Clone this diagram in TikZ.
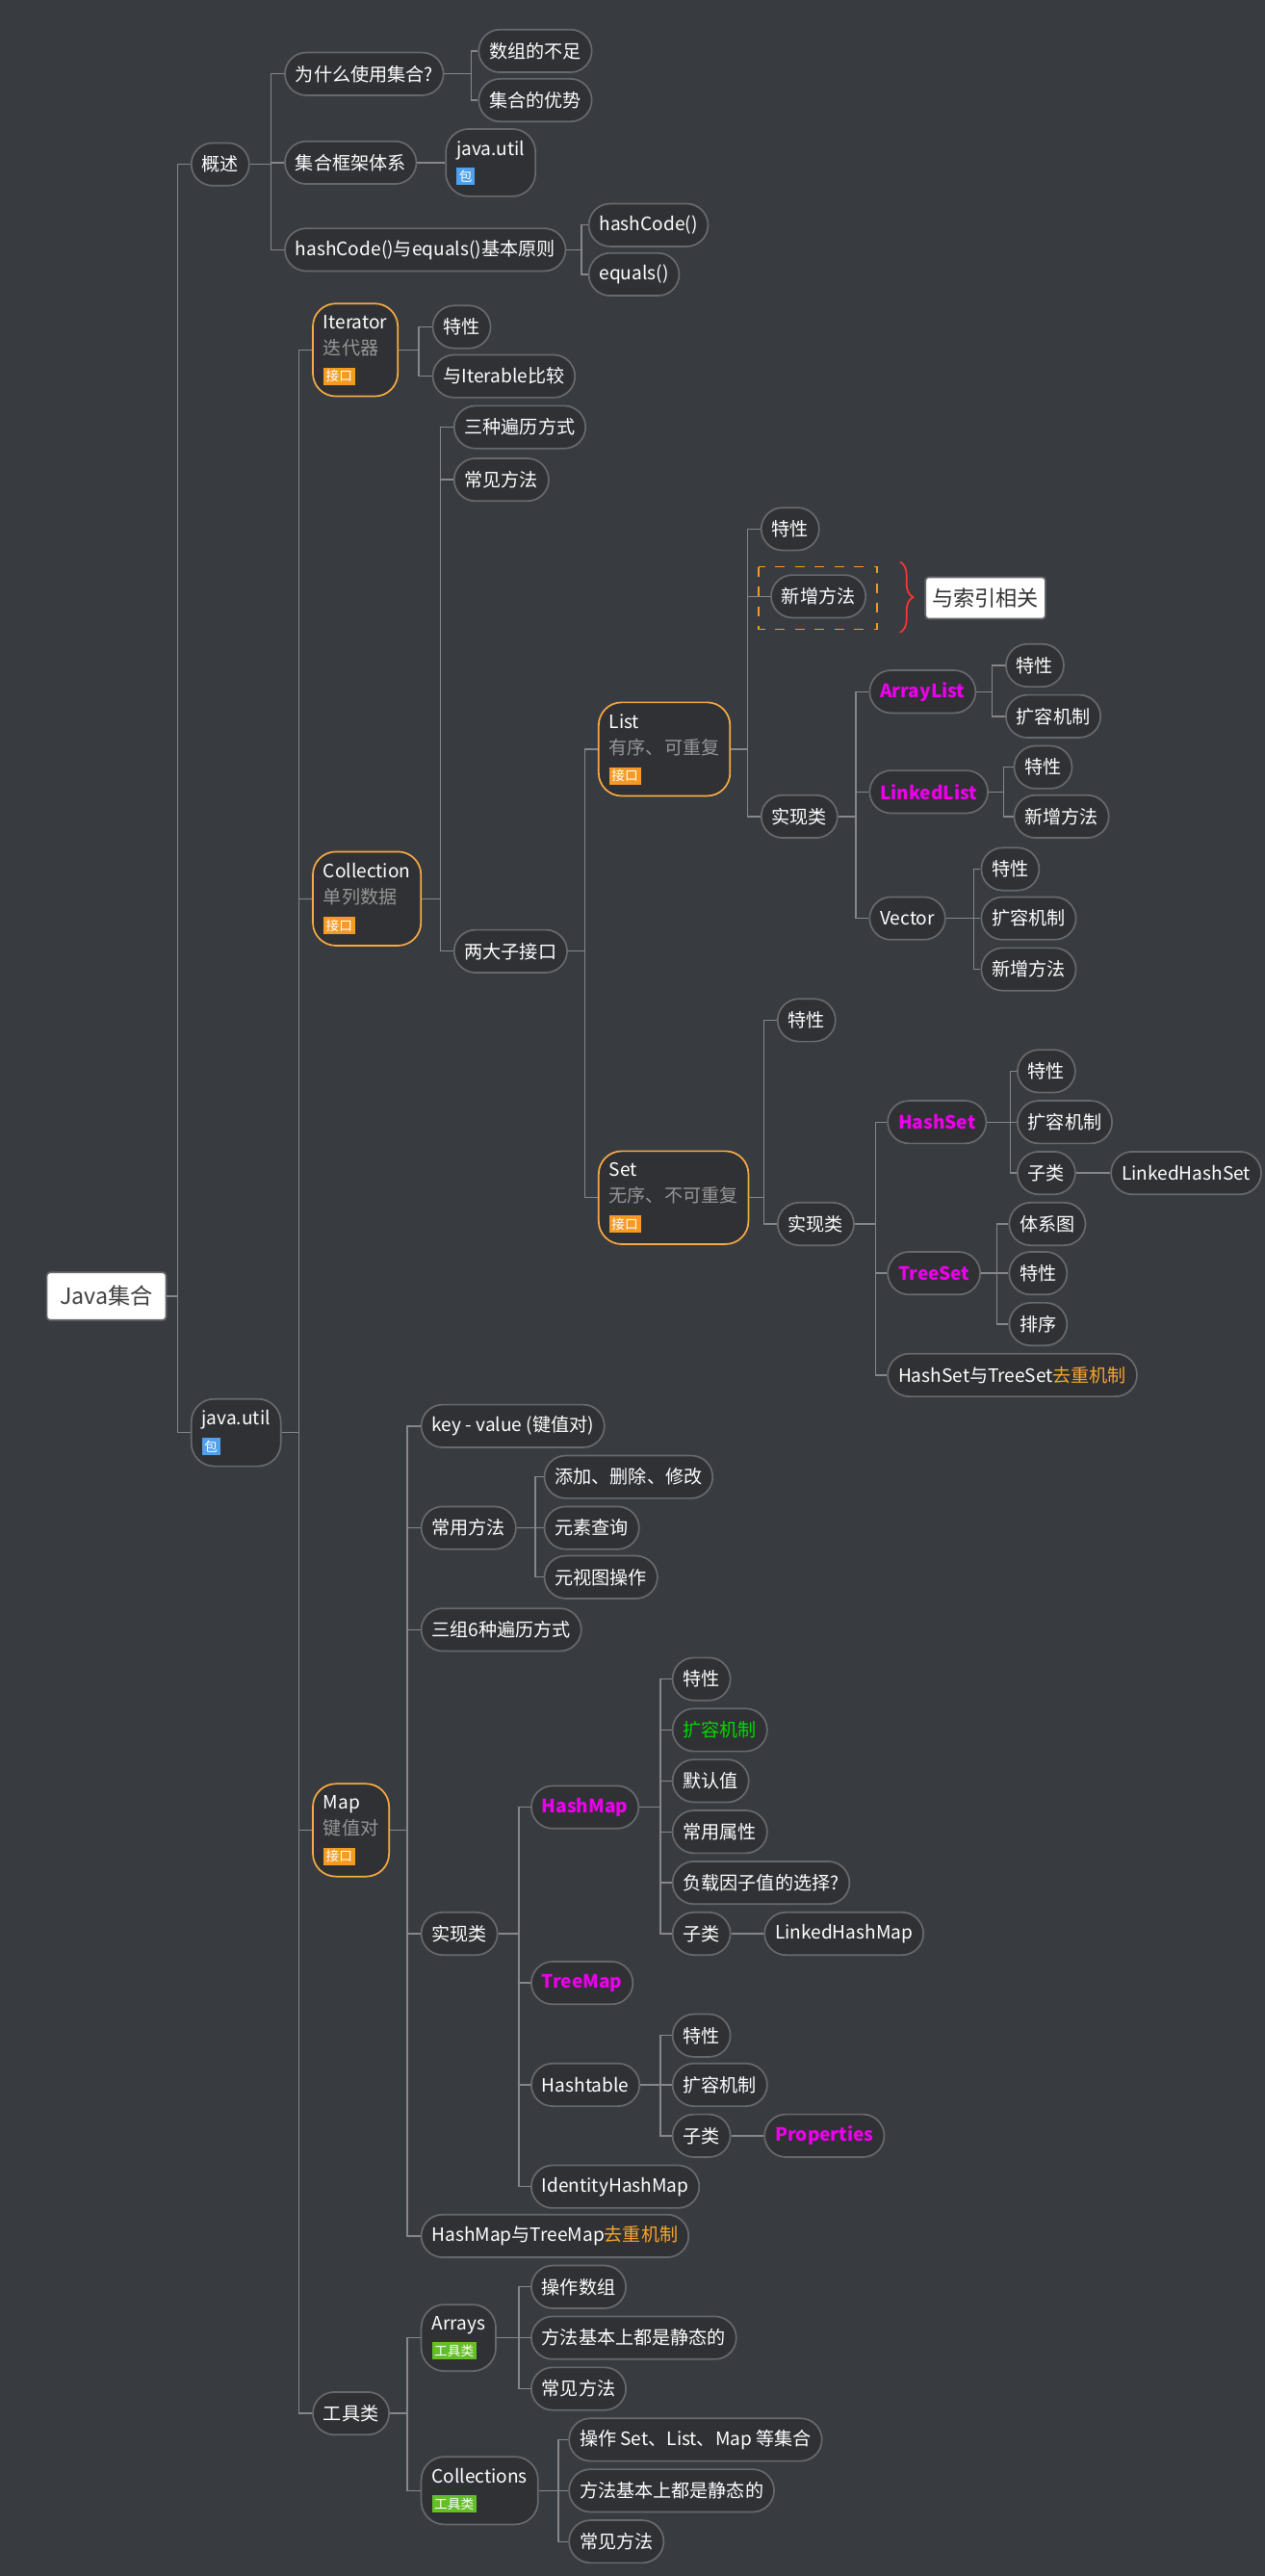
\documentclass[tikz,border=0pt]{standalone}
\usepackage{fontspec}
\setmainfont{Noto Sans CJK SC}
\usetikzlibrary{decorations.pathreplacing}
\definecolor{subgray}{RGB}{150,150,150}
\definecolor{tagorange}{RGB}{245,155,35}
\definecolor{tagblue}{RGB}{80,160,235}
\definecolor{taggreen}{RGB}{100,190,40}
\newcommand{\mmtag}[2]{{\setlength\fboxsep{0.8pt}\colorbox{#1}{\fontsize{4}{4}\selectfont\color{white}#2}}}
\begin{document}
\begin{tikzpicture}[x=0.5pt,y=-0.5pt]
            \definecolor{bg_color}{RGB}{56,59,64}
            \definecolor{node_color}{RGB}{48,49,52}
            \definecolor{edge_color}{RGB}{135,135,138}
            \definecolor{hot}{RGB}{235,0,235}
            \definecolor{dedup}{RGB}{245,165,45}
            \tikzstyle{leaf} = [draw=edge_color!60!bg_color, line width=0.5pt, fill=node_color, text=white, rounded corners=6.5pt, minimum height=13pt, inner xsep=3.2pt, anchor=west, font=\fontsize{5.6}{7}\selectfont]
            \tikzstyle{box} = [leaf, draw=tagorange!85, rounded corners=7pt, align=left, inner ysep=3.5pt, font=\fontsize{5.6}{8}\selectfont]
            \tikzstyle{pkg} = [leaf, rounded corners=7pt, align=left, inner ysep=3.5pt, font=\fontsize{5.6}{8}\selectfont]
            \tikzstyle{conn} = [draw=edge_color, line width=0.4pt]
            \fill[bg_color] (0,0) rectangle (770,1568);
            \useasboundingbox (0,0) rectangle (770,1568);
            % root and overview
            \node[leaf, fill=white, text=black!75, rounded corners=1pt, minimum height=14.5pt, inner xsep=4pt, font=\fontsize{6.8}{8}\selectfont] (root) at (28,789) {Java集合};
            \node[leaf] (ovw) at (116,100) {概述};
            \node[pkg] (util) at (116,872) {java.util\\\mmtag{tagblue}{包}};
            \node[leaf] (why) at (173,45) {为什么使用集合?};
            \node[leaf] (frame) at (173,99) {集合框架体系};
            \node[leaf] (hce) at (173,152) {hashCode()与equals()基本原则};
            \node[leaf] (lack) at (291,31) {数组的不足};
            \node[leaf] (adv) at (291,61) {集合的优势};
            \node[pkg] (pkg) at (271,99) {java.util\\\mmtag{tagblue}{包}};
            \node[leaf] (hc) at (358,137) {hashCode()};
            \node[leaf] (eq) at (358,167) {equals()};
            % iterator and collection
            \node[box] (iter) at (190,213) {Iterator\\{\color{subgray}迭代器}\\\mmtag{tagorange}{接口}};
            \node[box] (coll) at (190,547) {Collection\\{\color{subgray}单列数据}\\\mmtag{tagorange}{接口}};
            \node[box] (map) at (190,1114) {Map\\{\color{subgray}键值对}\\\mmtag{tagorange}{接口}};
            \node[leaf] (tools) at (190,1469) {工具类};
            \node[leaf] (itfeat) at (263,199) {特性};
            \node[leaf] (itcmp) at (263,229) {与Iterable比较};
            \node[leaf] (trav) at (276,260) {三种遍历方式};
            \node[leaf] (cmeth) at (276,292) {常见方法};
            \node[leaf] (sub) at (276,579) {两大子接口};
            \node[box] (list) at (364,456) {List\\{\color{subgray}有序、可重复}\\\mmtag{tagorange}{接口}};
            \node[box] (set) at (364,729) {Set\\{\color{subgray}无序、不可重复}\\\mmtag{tagorange}{接口}};
            % list
            \node[leaf] (lfeat) at (463,322) {特性};
            \node[leaf] (lnew) at (469,363) {新增方法};
            \draw[tagorange, dashed, line width=0.5pt] (462,345) rectangle (534,383);
            \draw[red!80, line width=0.5pt, decorate, decoration={brace, amplitude=4pt}] (548,342) -- (548,385);
            \node[leaf, fill=white, text=black!80, rounded corners=1pt, minimum height=11pt, inner xsep=2pt, font=\fontsize{6.5}{7}\selectfont] (idx) at (563,364) {与索引相关};
            \node[leaf] (limpl) at (463,497) {实现类};
            \node[leaf, text=hot, font=\fontsize{5.6}{7}\selectfont\bfseries] (al) at (529,421) {ArrayList};
            \node[leaf, text=hot, font=\fontsize{5.6}{7}\selectfont\bfseries] (ll) at (529,482) {LinkedList};
            \node[leaf] (vec) at (529,559) {Vector};
            \node[leaf] (alf) at (612,405) {特性};
            \node[leaf] (alg) at (612,436) {扩容机制};
            \node[leaf] (llf) at (617,467) {特性};
            \node[leaf] (lln) at (617,497) {新增方法};
            \node[leaf] (vf) at (597,529) {特性};
            \node[leaf] (vg) at (597,559) {扩容机制};
            \node[leaf] (vn) at (597,590) {新增方法};
            % set
            \node[leaf] (sfeat) at (473,621) {特性};
            \node[leaf] (simpl) at (473,745) {实现类};
            \node[leaf, text=hot, font=\fontsize{5.6}{7}\selectfont\bfseries] (hs) at (540,683) {HashSet};
            \node[leaf, text=hot, font=\fontsize{5.6}{7}\selectfont\bfseries] (ts) at (540,775) {TreeSet};
            \node[leaf] (sdedup) at (540,837) {HashSet与TreeSet{\color{dedup}去重机制}};
            \node[leaf] (hsf) at (619,652) {特性};
            \node[leaf] (hsg) at (619,683) {扩容机制};
            \node[leaf] (hssub) at (619,714) {子类};
            \node[leaf] (lhs) at (676,714) {LinkedHashSet};
            \node[leaf] (tsd) at (614,745) {体系图};
            \node[leaf] (tsf) at (614,775) {特性};
            \node[leaf] (tss) at (614,806) {排序};
            % map
            \node[leaf] (kv) at (256,868) {key - value (键值对)};
            \node[leaf] (mmeth) at (256,930) {常用方法};
            \node[leaf] (mtrav) at (256,992) {三组6种遍历方式};
            \node[leaf] (mimpl) at (256,1177) {实现类};
            \node[leaf] (mdedup) at (256,1361) {HashMap与TreeMap{\color{dedup}去重机制}};
            \node[leaf] (madd) at (331,899) {添加、删除、修改};
            \node[leaf] (mq) at (331,930) {元素查询};
            \node[leaf] (mview) at (331,960) {元视图操作};
            \node[leaf, text=hot, font=\fontsize{5.6}{7}\selectfont\bfseries] (hm) at (323,1100) {HashMap};
            \node[leaf, text=hot, font=\fontsize{5.6}{7}\selectfont\bfseries] (tm) at (323,1207) {TreeMap};
            \node[leaf] (ht) at (323,1269) {Hashtable};
            \node[leaf] (ihm) at (323,1331) {IdentityHashMap};
            \node[leaf] (hmf) at (409,1022) {特性};
            \node[leaf, text=green!85!black] (hmg) at (409,1053) {扩容机制};
            \node[leaf] (hmd) at (409,1084) {默认值};
            \node[leaf] (hma) at (409,1115) {常用属性};
            \node[leaf] (hml) at (409,1146) {负载因子值的选择?};
            \node[leaf] (hmsub) at (409,1177) {子类};
            \node[leaf] (lhm) at (465,1177) {LinkedHashMap};
            \node[leaf] (htf) at (409,1239) {特性};
            \node[leaf] (htg) at (409,1269) {扩容机制};
            \node[leaf] (htsub) at (409,1300) {子类};
            \node[leaf, text=hot, font=\fontsize{5.6}{7}\selectfont\bfseries] (prop) at (465,1300) {Properties};
            % tools
            \node[pkg] (arr) at (256,1423) {Arrays\\\mmtag{taggreen}{工具类}};
            \node[pkg] (colls) at (256,1516) {Collections\\\mmtag{taggreen}{工具类}};
            \node[leaf] (arrop) at (323,1392) {操作数组};
            \node[leaf] (arrst) at (323,1423) {方法基本上都是静态的};
            \node[leaf] (arrm) at (323,1454) {常见方法};
            \node[leaf] (cop) at (346,1485) {操作 Set、List、Map 等集合};
            \node[leaf] (cst) at (346,1516) {方法基本上都是静态的};
            \node[leaf] (cm) at (346,1547) {常见方法};
            % connectors
            \foreach \p/\x/\cs in {root/108/{ovw,util}, ovw/165/{why,frame,hce}, why/287/{lack,adv},
                hce/354/{hc,eq}, util/182/{iter,coll,map,tools}, iter/255/{itfeat,itcmp},
                coll/268/{trav,cmeth,sub}, sub/356/{list,set}, list/455/{lfeat,lnew,limpl},
                limpl/521/{al,ll,vec}, al/604/{alf,alg}, ll/611/{llf,lln}, vec/593/{vf,vg,vn},
                set/465/{sfeat,simpl}, simpl/533/{hs,ts,sdedup}, hs/615/{hsf,hsg,hssub},
                ts/607/{tsd,tsf,tss}, map/248/{kv,mmeth,mtrav,mimpl,mdedup}, mmeth/326/{madd,mq,mview},
                mimpl/316/{hm,tm,ht,ihm}, hm/402/{hmf,hmg,hmd,hma,hml,hmsub}, ht/402/{htf,htg,htsub},
                tools/248/{arr,colls}, arr/316/{arrop,arrst,arrm}, colls/340/{cop,cst,cm}}
                \foreach \c in \cs
                    \draw[conn] (\p.east) -- (\x,0 |- \p.east) |- (\c.west);
            \draw[conn] (frame) -- (pkg);
            \draw[conn] (hssub) -- (lhs);
            \draw[conn] (hmsub) -- (lhm);
            \draw[conn] (htsub) -- (prop);
        \end{tikzpicture}
\end{document}
